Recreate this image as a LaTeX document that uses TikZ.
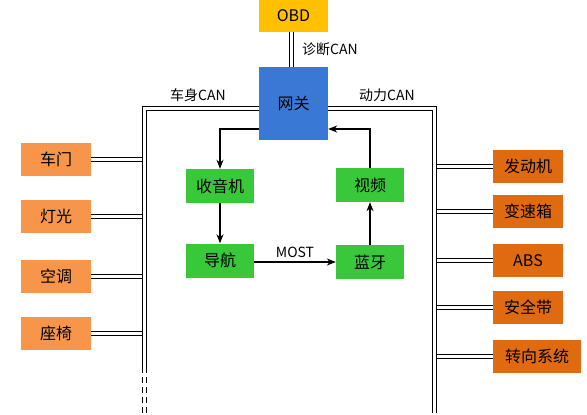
\documentclass[tikz,border=0pt]{standalone}
\usepackage{fontspec}
\setmainfont{Noto Sans CJK SC}
\usetikzlibrary{arrows.meta}
\definecolor{obdy}{HTML}{FFC000}
\definecolor{gwblue}{HTML}{3A78D6}
\definecolor{grn}{HTML}{38C83A}
\definecolor{orl}{HTML}{F7964A}
\definecolor{ord}{HTML}{E06A10}
\tikzset{
  box/.style={draw=none, inner sep=0pt, minimum height=33pt, font=\fontsize{16}{16}\selectfont, text=black},
  lbox/.style={box, fill=orl, minimum width=70pt},
  rbox/.style={box, fill=ord, minimum width=70pt},
  gbox/.style={box, fill=grn, minimum width=68pt, minimum height=34pt},
  bus/.style={draw=black, line width=1pt, double=white, double distance=3pt},
  busdash/.style={bus, dash pattern=on 6pt off 4pt},
  arr/.style={draw=black, line width=1.2pt, -{Stealth[length=9pt,width=7pt]}},
  lab/.style={font=\fontsize{14}{14}\selectfont, inner sep=0pt}
}
\begin{document}
\begin{tikzpicture}[x=1pt,y=-1pt]
\useasboundingbox (0,0) rectangle (587,415);
\fill[white] (0,0) rectangle (587,415);
% nodes
\node[box, fill=obdy, minimum width=69pt, minimum height=32pt] (obd) at (293.5,16) {OBD};
\node[box, fill=gwblue, minimum width=69pt, minimum height=73pt] (gw) at (293.5,103.5) {网关};
\node[lbox] (door) at (56,159.5) {车门};
\node[lbox] (light) at (56,216.5) {灯光};
\node[lbox] (ac) at (56,276.5) {空调};
\node[lbox] (seat) at (56,333) {座椅};
\node[rbox] (eng) at (528,166.5) {发动机};
\node[rbox] (gear) at (528,211) {变速箱};
\node[rbox] (abs) at (528,260.5) {ABS};
\node[rbox] (belt) at (528,307.5) {安全带};
\node[rbox, minimum width=88pt] (steer) at (537,356) {转向系统};
\node[gbox] (radio) at (220,186) {收音机};
\node[gbox] (nav) at (220,260.5) {导航};
\node[gbox] (video) at (370,185) {视频};
\node[gbox] (bt) at (370,262) {蓝牙};
% bus coordinates
\coordinate (lt) at (144,108);
\coordinate (lb) at (144,367);
\coordinate (le) at (144,415);
\coordinate (rt) at (434.5,108);
\coordinate (rb) at (434.5,407);
\coordinate (re) at (434.5,415);
% branches (drawn before the buses)
\foreach \n in {door,light,ac,seat}{
  \draw[bus] (\n.east) -- (\n.east -| lt);
}
\foreach \n in {eng,gear,abs,belt,steer}{
  \draw[bus] (\n.west) -- (\n.west -| rt);
}
% buses
\draw[bus] (gw.west |- lt) -- (lt) -- (lb);
\draw[busdash] (lb) -- (le);
\draw[bus] (gw.east |- rt) -- (rt) -- (rb);
\draw[busdash] (rb) -- (re);
\draw[bus] (obd.south -| 291,0) -- (gw.north -| 291,0);
% labels
\node[lab, anchor=west] (diag) at (302,49) {诊断CAN};
\node[lab] (body) at (198,95) {车身CAN};
\node[lab] (power) at (387,95) {动力CAN};
% arrows
\draw[arr] (gw.west |- 0,129) -| (radio.north);
\draw[arr] (radio.south) -- (nav.north);
\draw[arr] (nav.east |- 0,262) -- node[lab, above=4pt] (most) {MOST} (bt.west |- 0,262);
\draw[arr] (bt.north) -- (video.north |- bt.north) -- (video.south);
\draw[arr] (video.north) |- (gw.east |- 0,129);
\end{tikzpicture}
\end{document}
